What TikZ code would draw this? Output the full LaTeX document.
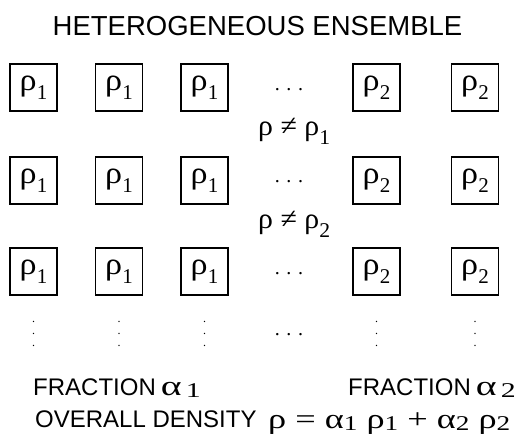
\documentclass[tikz,border=0pt]{standalone}
\usepackage{fontspec}
\usepackage{graphicx}
\setmainfont{Liberation Sans}
\newfontfamily\grk{Liberation Serif}
\newcommand\rsub[1]{\raisebox{-9pt}{\fontsize{21}{21}\selectfont #1}}
\newcommand\fsub[1]{\raisebox{-2pt}{\fontsize{21}{21}\selectfont #1}}
\newcommand\wfit[2]{\resizebox{#1}{\height}{#2}}
\newcommand\grho{\scalebox{1.1}[1]{ρ}}
\begin{document}
\begin{tikzpicture}[x=1pt,y=-1pt,
  rbox/.style={draw, line width=1.2pt, minimum width=47pt, minimum height=47pt, inner sep=0pt, font=\grk\fontsize{31}{31}\selectfont},
  hdots/.style={anchor=base, inner sep=0pt, font=\grk\fontsize{20}{20}\selectfont},
  vdot/.style={inner sep=0pt, font=\grk\fontsize{12}{12}\selectfont},
  neq/.style={anchor=base west, inner sep=0pt, font=\grk\fontsize{29}{29}\selectfont},
  lbl/.style={anchor=base west, inner sep=0pt, font=\fontsize{24}{24}\selectfont}]
\useasboundingbox (0,0) rectangle (517,439);
\node[anchor=base, inner sep=0pt, font=\fontsize{27.5}{27.5}\selectfont] (title) at (257.5,35) {HETEROGENEOUS ENSEMBLE};
\foreach \r/\y in {1/87.5,2/180.5,3/271.5}{
  \node[rbox] (b\r1) at (33.5,\y) {\grho\rsub{1}};
  \node[rbox] (b\r2) at (119,\y) {\grho\rsub{1}};
  \node[rbox] (b\r3) at (204.5,\y) {\grho\rsub{1}};
  \node[rbox] (b\r4) at (376.5,\y) {\grho\rsub{2}};
  \node[rbox] (b\r5) at (475,\y) {\grho\rsub{2}};
}
\node[hdots] (h1) at (289,90) {. . .};
\node[hdots] (h2) at (289,182) {. . .};
\node[hdots] (h3) at (289,274) {. . .};
\node[hdots] (h4) at (289,335) {. . .};
\node[neq] (n1) at (258,135) {\wfit{72pt}{ρ ≠ ρ\rsub{1}}};
\node[neq] (n2) at (258,228) {\wfit{72pt}{ρ ≠ ρ\rsub{2}}};
\foreach \i/\x in {1/33.5,2/119,3/204.5,4/376.5,5/475}{
  \node[vdot] (v\i a) at (\x,322) {.};
  \node[vdot] (v\i b) at (\x,334) {.};
  \node[vdot] (v\i c) at (\x,346) {.};
}
\node[lbl] (f1) at (33,395) {FRACTION\hspace{5pt}{\grk\fontsize{28}{28}\selectfont\wfit{40pt}{α\hspace{3pt}\fsub{1}}}};
\node[lbl] (f2) at (348,395) {FRACTION\hspace{5pt}{\grk\fontsize{28}{28}\selectfont\wfit{40pt}{α\hspace{3pt}\fsub{2}}}};
\node[lbl] (od) at (35,427) {OVERALL DENSITY};
\node[anchor=base west, inner sep=0pt, font=\grk\fontsize{28}{28}\selectfont] (form) at (268,428) {\wfit{242pt}{ρ = α\fsub{1} ρ\fsub{1} + α\fsub{2} ρ\fsub{2}}};
\end{tikzpicture}
\end{document}
